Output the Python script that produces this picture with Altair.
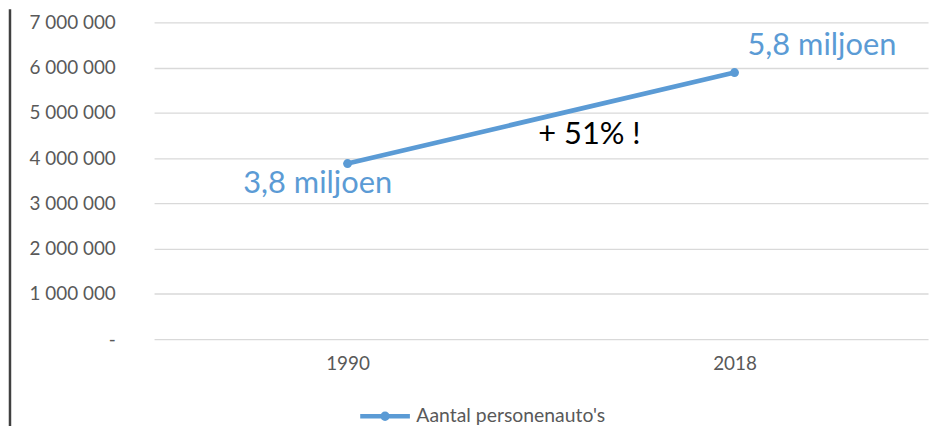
import altair as alt
import pandas as pd

years = ["1990", "2018"]
cars = [3880000, 5890000]
series_name = "Aantal personenauto's"

note_texts = ["3,8 miljoen", "5,8 miljoen", "+ 51% !"]
note_years = ["1990", "2018", "1990"]
note_values = [3880000, 5890000, 3880000]

BLUE = "#5B9BD5"
GREY = "#595959"
FONT = "Lato"

df = pd.DataFrame({"jaar": years, "aantal": cars, "reeks": [series_name] * len(years)})
notes = pd.DataFrame({"jaar": note_years, "aantal": note_values, "tekst": note_texts})

x_enc = alt.X("jaar:N", scale=alt.Scale(type="point", padding=0.5),
              axis=alt.Axis(title=None, labelAngle=0, domain=False, ticks=False, grid=False,
                            labelFont=FONT, labelFontSize=19, labelColor=GREY, labelPadding=15))
y_enc = alt.Y("aantal:Q", scale=alt.Scale(domain=[0, 7000000], nice=False, zero=True),
              axis=alt.Axis(title=None, values=[0, 1000000, 2000000, 3000000, 4000000, 5000000, 6000000, 7000000],
                            domain=False, ticks=False, tickSize=0, grid=True, gridColor="#D9D9D9", gridWidth=1.3,
                            labelFont=FONT, labelFontSize=19, labelColor=GREY, labelPadding=39,
                            labelExpr="datum.value == 0 ? '-\u00a0\u00a0\u00a0' : replace(format(datum.value, ','), regexp(',', 'g'), ' ')"))

base = alt.Chart(df)

line = base.mark_line(strokeWidth=4.8, strokeCap="round", color=BLUE).encode(x=x_enc, y=y_enc)

points = base.mark_point(filled=True, size=80, opacity=1, strokeWidth=0).encode(
    x="jaar:N", y="aantal:Q",
    color=alt.Color("reeks:N", scale=alt.Scale(range=[BLUE]),
                    legend=alt.Legend(title=None, orient="none", legendX=205, legendY=369,
                                      symbolType="M-1,0H1M-0.1,0A0.1,0.1 0 1,0 0.1,0A0.1,0.1 0 1,0 -0.1,0",
                                      symbolSize=2500, symbolStrokeWidth=4.5, symbolFillColor=BLUE,
                                      symbolStrokeColor=BLUE, symbolOpacity=1,
                                      labelFont=FONT, labelFontSize=19.5,
                                      labelColor=GREY, labelOffset=4, labelLimit=0, padding=0)),
)

blue_notes = alt.Chart(notes.iloc[:1]).mark_text(align="left", baseline="middle", font=FONT, fontSize=31,
                                                  color=BLUE, dx=-105, dy=21).encode(x="jaar:N", y="aantal:Q", text="tekst:N")
top_note = alt.Chart(notes.iloc[1:2]).mark_text(align="left", baseline="middle", font=FONT, fontSize=31,
                                                color=BLUE, dx=13, dy=-27).encode(x="jaar:N", y="aantal:Q", text="tekst:N")
pct_note = alt.Chart(notes.iloc[2:3]).mark_text(align="left", baseline="middle", font=FONT, fontSize=31,
                                                color="#000000", dx=192, dy=-29).encode(x="jaar:N", y="aantal:Q", text="tekst:N")

border = alt.Chart(alt.Data(values=[{}])).mark_rule(color="#404040", strokeWidth=2.5).encode(
    x=alt.value(-145), y=alt.value(-13), y2=alt.value(430))

chart = alt.layer(border, line, points, blue_notes, top_note, pct_note).properties(
    width=779, height=319,
    autosize=alt.AutoSizeParams(type="none"),
    padding={"left": 147, "top": 13, "right": 5, "bottom": 92},
).configure_view(stroke=None)

chart.save("out.html", embed_options={"renderer": "svg", "actions": False})
